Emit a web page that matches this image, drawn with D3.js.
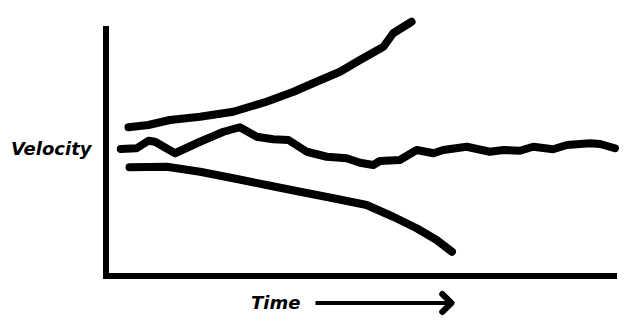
<!DOCTYPE html>
<html>
<head>
<meta charset="utf-8">
<script src="https://cdn.jsdelivr.net/npm/d3@7"></script>
<style>
  body { margin: 0; background: #fff; }
  svg { display: block; }
  .label { font-family: "DejaVu Sans", sans-serif; font-weight: bold; font-style: italic; font-size: 18px; fill: #000; }
</style>
</head>
<body>
<svg id="chart" width="628" height="329"></svg>
<script>
// Time (0-100) and velocity (0-100)
const upperTime = [4.4, 8.3, 12.5, 18.4, 24.9, 31.4, 36.7, 41.2, 45.8, 49.7, 54.3, 56.2, 59.8];
const upperVelocity = [59.5, 60.4, 62.4, 63.7, 65.7, 69.7, 73.7, 77.7, 81.7, 86.4, 91.7, 97.1, 101.7];

const middleTime = [2.9, 6.0, 8.3, 9.6, 13.5, 18.4, 23.0, 26.2, 29.5, 32.7, 35.7, 39.3, 43.2, 47.1, 49.7, 52.3,
  53.6, 57.5, 60.8, 64.1, 66.0, 70.6, 75.1, 77.8, 81.0, 83.6, 87.5, 90.2, 94.7, 96.7, 99.6];
const middleVelocity = [50.8, 51.1, 54.1, 53.7, 49.1, 53.7, 57.7, 59.5, 55.7, 54.7, 54.4, 49.7, 47.7, 47.1, 45.3, 44.4,
  46.0, 46.4, 50.4, 49.1, 50.4, 51.7, 49.7, 50.4, 50.1, 51.7, 50.7, 52.4, 53.1, 52.8, 51.1];

const lowerTime = [4.6, 11.9, 18.4, 24.9, 31.4, 38.0, 44.5, 51.0, 56.2, 60.8, 64.7, 67.7];
const lowerVelocity = [43.5, 43.7, 41.7, 39.1, 36.4, 33.7, 31.1, 28.4, 23.7, 19.1, 14.4, 9.7];

const axisLabels = ["Time", "Velocity"];

function zipSeries(xs, ys) {
  return xs.map((t, i) => ({ t: t, v: ys[i] }));
}
const series = [
  zipSeries(upperTime, upperVelocity),
  zipSeries(middleTime, middleVelocity),
  zipSeries(lowerTime, lowerVelocity)
];

const svg = d3.select("#chart");

const x = d3.scaleLinear().domain([0, 100]).range([106, 617]);
const y = d3.scaleLinear().domain([0, 100]).range([276, 26]);

// Axes: just two heavy strokes, no ticks
svg.append("line")
  .attr("x1", x(0)).attr("x2", x(0))
  .attr("y1", y(0) + 3).attr("y2", y(100))
  .attr("stroke", "#000").attr("stroke-width", 6);

svg.append("line")
  .attr("x1", x(0) - 3).attr("x2", x(100))
  .attr("y1", y(0)).attr("y2", y(0))
  .attr("stroke", "#000").attr("stroke-width", 6);

// The three velocity curves
const line = d3.line()
  .x(d => x(d.t))
  .y(d => y(d.v))
  .curve(d3.curveLinear);

svg.selectAll(".curve")
  .data(series)
  .enter()
  .append("path")
    .classed("curve", true)
    .attr("d", line)
    .attr("fill", "none")
    .attr("stroke", "#000")
    .attr("stroke-width", 8)
    .attr("stroke-linecap", "round")
    .attr("stroke-linejoin", "round");

// Labels
svg.append("text")
  .classed("label", true)
  .attr("x", 251).attr("y", 309)
  .text(axisLabels[0]);

svg.append("text")
  .classed("label", true)
  .attr("x", 11).attr("y", 155)
  .text(axisLabels[1]);

// Arrow next to "Time"
const arrowY = 303;
svg.append("line")
  .attr("x1", x(41)).attr("x2", x(67.6))
  .attr("y1", arrowY).attr("y2", arrowY)
  .attr("stroke", "#000").attr("stroke-width", 4);

svg.append("path")
  .attr("d", d3.line()([[x(65.8), arrowY - 9], [x(67.6), arrowY], [x(65.8), arrowY + 9]]))
  .attr("fill", "none")
  .attr("stroke", "#000")
  .attr("stroke-width", 6)
  .attr("stroke-linecap", "round")
  .attr("stroke-linejoin", "round");
</script>
</body>
</html>
